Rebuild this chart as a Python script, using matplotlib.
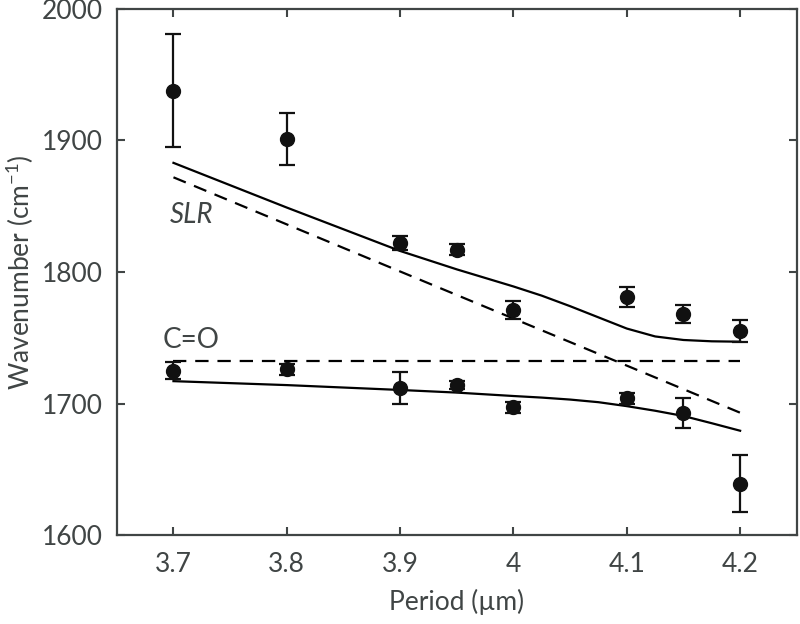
import matplotlib
matplotlib.use("Agg")
import matplotlib.pyplot as plt

# ---- data ----
period = [3.7, 3.8, 3.9, 3.95, 4.0, 4.1, 4.15, 4.2]
upper_meas = [1938, 1901, 1822, 1817, 1771, 1781, 1768, 1755]
upper_err = [43, 20, 5, 4, 7, 7.5, 7, 8.5]
lower_meas = [1725, 1726, 1712, 1714, 1697, 1704, 1693, 1639]
lower_err = [6.5, 4, 12, 3, 4, 4, 11.5, 21.5]

model_p = [3.7, 3.8, 3.9, 3.95, 4.0, 4.025, 4.05, 4.075, 4.1, 4.125, 4.15, 4.175, 4.2]
upper_model = [1883, 1849, 1816, 1802, 1789, 1782, 1774, 1765.5, 1757, 1751, 1748.3, 1747.3, 1747]
lower_model = [1717, 1714, 1710.3, 1708.3, 1705.7, 1704.5, 1703, 1701, 1698, 1694.5, 1690.5, 1685, 1679.3]

slr_p = [3.7, 4.2]
slr = [1872, 1693]
co_p = [3.7, 4.2]
co = [1732, 1732]

GREY = "#404545"
plt.rcParams["font.family"] = ["Lato", "DejaVu Sans"]

fig = plt.figure(figsize=(8, 6.24), dpi=100)
ax = fig.add_axes([0.146, 0.1426, 0.85, 0.8430])

ax.plot(model_p, upper_model, color="black", lw=1.6)
ax.plot(model_p, lower_model, color="black", lw=1.6)
ax.plot(slr_p, slr, color="black", lw=1.6, ls=(0, (6, 4)))
ax.plot(co_p, co, color="black", lw=1.6, ls=(0, (6, 4)))

for y, e in ((upper_meas, upper_err), (lower_meas, lower_err)):
    ax.errorbar(period, y, yerr=e, fmt="o", color="#111111", ms=10,
                elinewidth=1.6, capsize=5.5, capthick=1.6)

ax.text(3.697, 1837, "SLR", fontsize=20, style="italic", color=GREY)
ax.text(3.690, 1742, "C=O", fontsize=20, color=GREY)

ax.set_xlim(3.65, 4.25)
ax.set_ylim(1600, 2000)
ax.set_xticks([3.7, 3.8, 3.9, 4.0, 4.1, 4.2])
ax.set_xticklabels(["3.7", "3.8", "3.9", "4", "4.1", "4.2"])
ax.set_yticks([1600, 1700, 1800, 1900, 2000])
ax.tick_params(direction="in", length=6, width=1.5, colors=GREY,
               labelsize=19, top=True, right=True)
ax.tick_params(axis="x", pad=12)
ax.tick_params(axis="y", pad=10)
for s in ax.spines.values():
    s.set_color(GREY)
    s.set_linewidth(1.6)
ax.set_xlabel("Period (µm)", fontsize=19, color=GREY, labelpad=9)
ax.set_ylabel("Wavenumber (cm$^{\\mathregular{-1}}$)", fontsize=19,
              color=GREY, labelpad=4)

fig.savefig("out.png")
